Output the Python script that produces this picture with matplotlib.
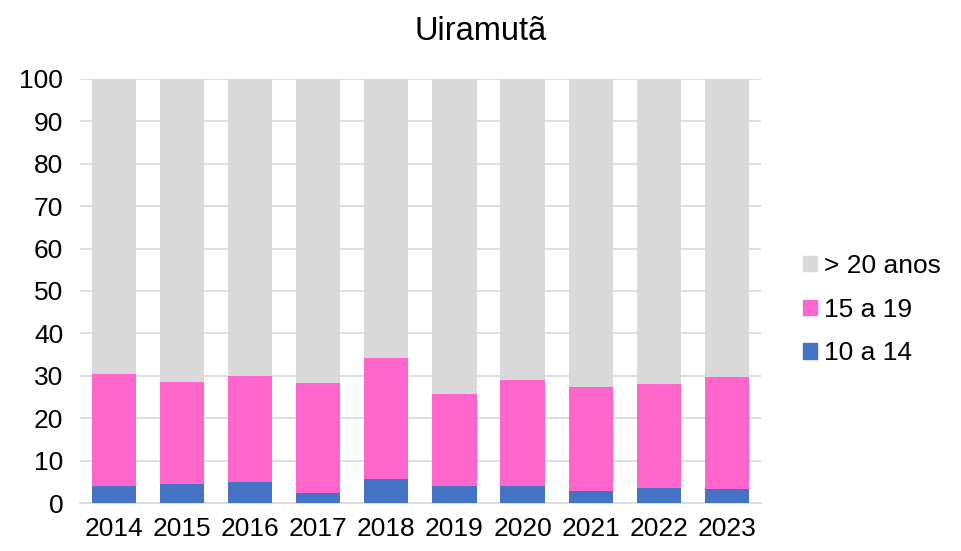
import numpy as np
import matplotlib.pyplot as plt
from matplotlib.patches import Patch

plt.rcParams["font.family"] = ["Liberation Sans", "DejaVu Sans"]

years = ["2014", "2015", "2016", "2017", "2018", "2019", "2020", "2021", "2022", "2023"]
age_10_14 = [4.0, 4.4, 4.9, 2.3, 5.6, 4.0, 4.0, 2.8, 3.5, 3.3]
age_15_19 = [26.4, 24.1, 25.1, 26.0, 28.6, 21.7, 25.0, 24.5, 24.5, 26.5]
age_20_plus = [100 - a - b for a, b in zip(age_10_14, age_15_19)]

c_blue, c_pink, c_gray = "#4472C4", "#FF66CC", "#D9D9D9"

fig = plt.figure(figsize=(9.62, 5.51), dpi=100)
ax = fig.add_axes([0.083, 0.087, 0.708, 0.770])

x = np.arange(len(years))
w = 0.65
ax.bar(x, age_10_14, w, color=c_blue, zorder=3)
ax.bar(x, age_15_19, w, bottom=age_10_14, color=c_pink, zorder=3)
bottom2 = [a + b for a, b in zip(age_10_14, age_15_19)]
ax.bar(x, age_20_plus, w, bottom=bottom2, color=c_gray, zorder=3)

ax.set_xlim(-0.5, len(years) - 0.5)
ax.set_ylim(0, 100)
ax.set_yticks(range(0, 101, 10))
ax.set_xticks(x)
ax.set_xticklabels(years)
ax.tick_params(axis="both", length=0, labelsize=19)
ax.tick_params(axis="y", pad=12)
ax.tick_params(axis="x", pad=10)
ax.grid(axis="y", color="#D9D9D9", linewidth=1.2, zorder=0)
for s in ["top", "right", "left"]:
    ax.spines[s].set_visible(False)
ax.spines["bottom"].set_color("#D9D9D9")
ax.spines["bottom"].set_linewidth(1.2)

fig.text(0.5, 0.942, "Uiramutã", fontsize=23.5, ha="center", va="center")

handles = [Patch(color=c_gray), Patch(color=c_pink), Patch(color=c_blue)]
labels = ["> 20 anos", "15 a 19", "10 a 14"]
fig.legend(handles, labels, loc="center left", bbox_to_anchor=(0.835, 0.438),
           frameon=False, fontsize=19, handlelength=0.52, handleheight=0.52,
           labelspacing=0.75, handletextpad=0.25, borderpad=0, borderaxespad=0)

fig.savefig("out.png", dpi=100)
